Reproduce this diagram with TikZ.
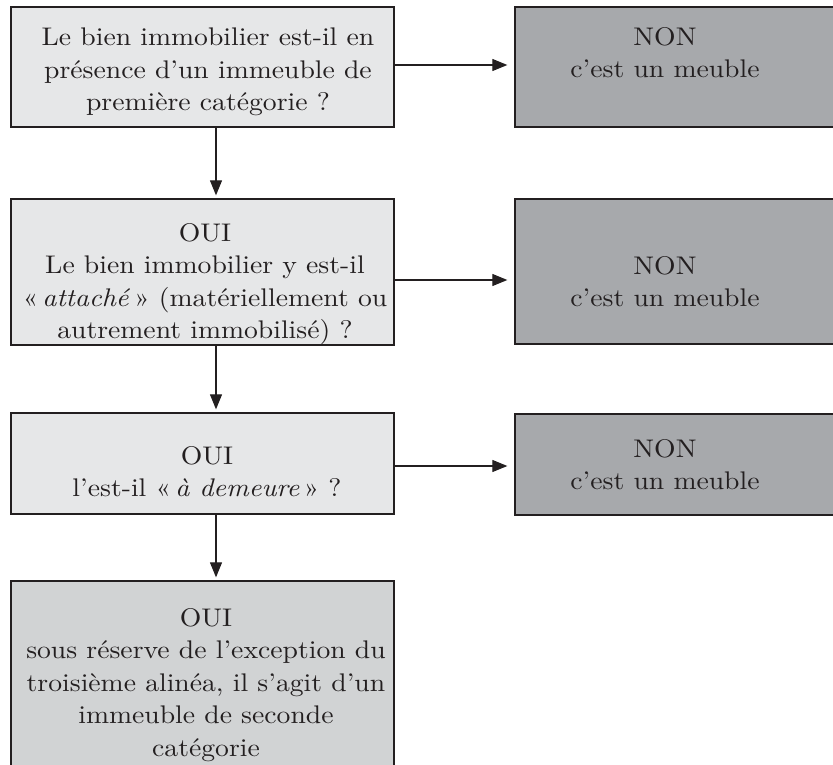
\documentclass[tikz,border=0pt]{standalone}
\usepackage{fontspec}
\setmainfont{lmroman10-regular.otf}[ItalicFont=lmroman10-italic.otf, FakeStretch=1.085]
\usetikzlibrary{arrows.meta}
\definecolor{edge}{HTML}{231F20}
\definecolor{lightbox}{HTML}{E6E7E8}
\definecolor{darkbox}{HTML}{A7A9AC}
\definecolor{midbox}{HTML}{D1D3D4}
\tikzset{
  qbox/.style={draw=edge, line width=1.3pt, fill=lightbox, rectangle, inner sep=0pt},
  nbox/.style={draw=edge, line width=1.3pt, fill=darkbox, rectangle, inner sep=0pt},
  fbox/.style={draw=edge, line width=1.3pt, fill=midbox, rectangle, inner sep=0pt},
  txt/.style={anchor=north, align=center, inner sep=0pt, text=edge,
    font=\fontsize{25.5}{32.5}\selectfont},
  arr/.style={draw=edge, line width=1.1pt, -{Triangle[length=15pt,width=12pt]}}
}
\begin{document}
\begin{tikzpicture}[x=1pt,y=-1pt]
\useasboundingbox (0,0) rectangle (833,765);
\clip (0,0) rectangle (833,765);
% boxes
\node[qbox, minimum width=383pt, minimum height=120pt] (b1) at (202.5,67) {};
\node[nbox, minimum width=330pt, minimum height=120pt] (n1) at (680,67) {};
\node[qbox, minimum width=383pt, minimum height=146pt] (b2) at (202.5,272) {};
\node[nbox, minimum width=330pt, minimum height=145pt] (n2) at (680,271.5) {};
\node[qbox, minimum width=383pt, minimum height=101pt] (b3) at (202.5,463.5) {};
\node[nbox, minimum width=330pt, minimum height=101pt] (n3) at (680,464.5) {};
\node[fbox, minimum width=383pt, minimum height=219pt] (b4) at (202.5,690.5) {};
% texts
\node[txt] (t1) at (208,28) {Le bien immobilier est-il en\\présence d’un immeuble de\\première catégorie ?};
\node[txt] (tn1) at (665,27) {NON\\c’est un meuble};
\node[txt] (t2) at (205,223) {OUI\\Le bien immobilier y est-il\\«\,\textit{attaché}\,» (matériellement ou\\autrement immobilisé) ?};
\node[txt] (tn2) at (665,256) {NON\\c’est un meuble};
\node[txt] (t3) at (207,446) {OUI\\l’est-il «\,\textit{à demeure}\,» ?};
\node[txt] (tn3) at (665,439) {NON\\c’est un meuble};
\node[txt] (t4) at (206,608) {OUI\\sous réserve de l’exception du\\troisième alinéa, il s’agit d’un\\immeuble de seconde\\catégorie};
% connectors
\draw[arr, shorten >=7pt] ([yshift=2pt]b1.east) -- ([yshift=2pt]n1.west);
\draw[arr, shorten >=7pt] ([yshift=-8pt]b2.east) -- ([yshift=-8.5pt]n2.west);
\draw[arr, shorten >=7pt] ([yshift=-2.5pt]b3.east) -- ([yshift=-1.5pt]n3.west);
\draw[arr, shorten >=3pt] ([xshift=13.5pt]b1.south) -- ([xshift=13.5pt]b2.north);
\draw[arr, shorten >=3pt] ([xshift=13.5pt]b2.south) -- ([xshift=13.5pt]b3.north);
\draw[arr, shorten >=3pt] ([xshift=13.5pt]b3.south) -- ([xshift=13.5pt]b4.north);
\end{tikzpicture}
\end{document}
